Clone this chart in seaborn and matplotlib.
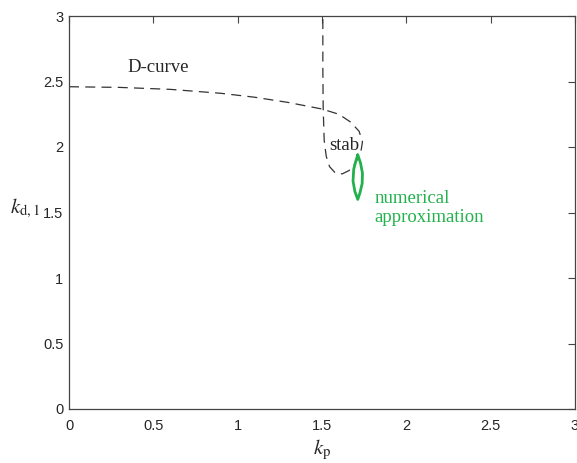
import matplotlib
matplotlib.use("Agg")
import matplotlib.pyplot as plt
import seaborn as sns
import pandas as pd

# D-curve (dashed)
d_kp = [0.0, 0.3, 0.6, 0.9, 1.1, 1.3, 1.5, 1.6, 1.67, 1.72, 1.74, 1.73, 1.70,
        1.66, 1.62, 1.58, 1.545, 1.525, 1.513, 1.507, 1.505, 1.505]
d_kd = [2.46, 2.455, 2.44, 2.41, 2.38, 2.34, 2.29, 2.25, 2.19, 2.12, 2.04, 1.96,
        1.88, 1.82, 1.795, 1.80, 1.85, 1.93, 2.05, 2.3, 2.6, 3.0]

# numerical approximation (closed green loop)
n_kp = [1.712, 1.728, 1.740, 1.738, 1.725, 1.712, 1.695, 1.684, 1.688, 1.700, 1.712]
n_kd = [1.94, 1.88, 1.80, 1.72, 1.65, 1.60, 1.66, 1.74, 1.83, 1.89, 1.94]

x_ticks = [0, 0.5, 1, 1.5, 2, 2.5, 3]
x_labels = ["0", "0.5", "1", "1.5", "2", "2.5", "3"]
y_ticks = [0, 0.5, 1, 1.5, 2, 2.5, 3]
y_labels = ["0", "0.5", "1", "1.5", "2", "2.5", "3"]

sns.set_style("white")
plt.rcParams["font.family"] = ["Liberation Sans", "DejaVu Sans"]
plt.rcParams["mathtext.fontset"] = "stix"

green = "#22b14c"
dcurve = pd.DataFrame({"kp": d_kp, "kd": d_kd})
approx = pd.DataFrame({"kp": n_kp, "kd": n_kd})

fig = plt.figure(figsize=(5.77, 4.63), dpi=100)
ax = fig.add_axes([69 / 577, 54 / 463, 506 / 577, 393 / 463])

sns.lineplot(data=dcurve, x="kp", y="kd", sort=False, estimator=None, ax=ax,
             color="#333333", linewidth=0.9, linestyle=(0, (8, 5)))
sns.lineplot(data=approx, x="kp", y="kd", sort=False, estimator=None, ax=ax,
             color=green, linewidth=2)

ax.set_xlim(0, 3)
ax.set_ylim(0, 3)
ax.set_xticks(x_ticks, x_labels)
ax.set_yticks(y_ticks, y_labels)
ax.tick_params(direction="in", length=5, width=0.8, color="#444444",
               labelsize=10.5, labelcolor="#262626", top=True, right=True)
ax.tick_params(axis="x", pad=7)
ax.tick_params(axis="y", pad=4)
for s in ax.spines.values():
    s.set_visible(True)
    s.set_color("#444444")
    s.set_linewidth(0.9)

serif = ["Liberation Serif", "DejaVu Serif"]
ax.text(0.345, 2.61, "D-curve", family=serif, fontsize=13.5, va="center")
ax.text(1.545, 2.01, "stab", family=serif, fontsize=13.5, va="center")
ax.text(1.81, 1.535, "numerical\napproximation", family=serif, fontsize=13.5,
        va="center", color=green, linespacing=1.2)

ax.set_xlabel(r"$k_{\mathrm{p}}$", fontsize=15, labelpad=4)
ax.set_ylabel(r"$k_{\mathrm{d,1}}$", fontsize=15, rotation=0)
ax.yaxis.set_label_coords(-0.087, 0.48)

fig.savefig("out.png", dpi=100)
